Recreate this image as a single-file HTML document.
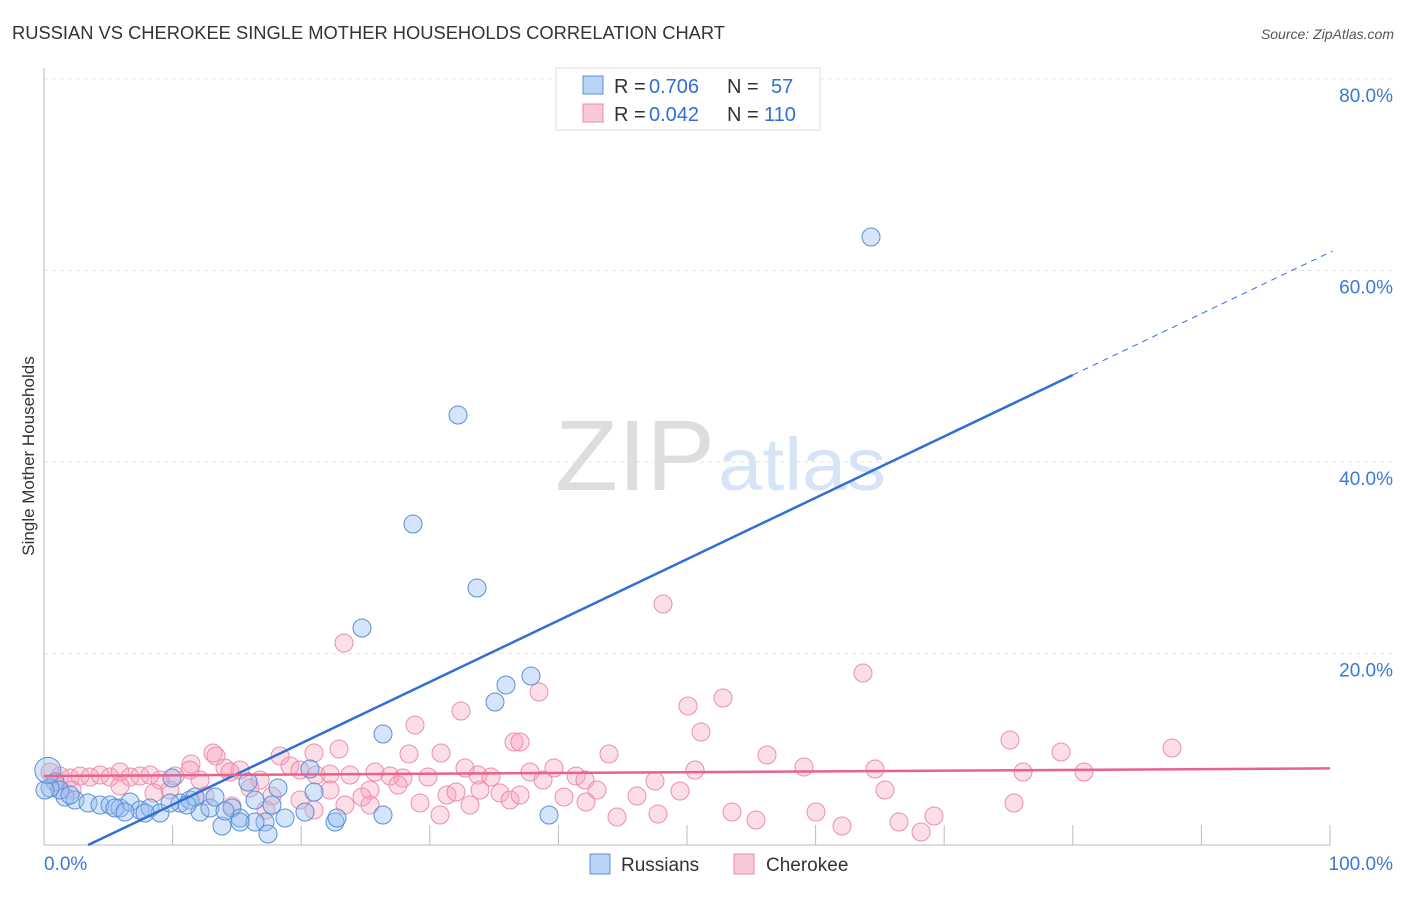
<!DOCTYPE html>
<html><head><meta charset="utf-8"><style>
body{margin:0;background:#fff;font-family:"Liberation Sans",sans-serif}
svg text{font-family:"Liberation Sans",sans-serif}
</style></head><body>
<svg id="chart" width="1406" height="892" xmlns="http://www.w3.org/2000/svg">
<text x="12" y="39" font-size="18" fill="#333" textLength="713" lengthAdjust="spacingAndGlyphs">RUSSIAN VS CHEROKEE SINGLE MOTHER HOUSEHOLDS CORRELATION CHART</text>
<text x="1394" y="39" font-size="14" fill="#555" font-style="italic" text-anchor="end">Source: ZipAtlas.com</text>
<text x="34" y="456" font-size="17" fill="#333" text-anchor="middle" transform="rotate(-90 34 456)">Single Mother Households</text>
<text x="715" y="490" font-size="100" fill="#ddd" font-family="Liberation Serif" text-anchor="end" textLength="160" lengthAdjust="spacingAndGlyphs">ZIP</text>
<text x="718" y="490" font-size="74" fill="#d6e4f5" textLength="168" lengthAdjust="spacingAndGlyphs">atlas</text>
<g id="grid"></g><g id="pts"></g><g id="lines"></g>
<g>
<rect x="556" y="68" width="264" height="62" fill="#fff" stroke="#ddd"/>
<rect x="583" y="76" width="20" height="18" fill="#b8d3f5" stroke="#5b8ed8"/>
<rect x="583" y="104" width="20" height="18" fill="#f9c8d6" stroke="#e88aa8"/>
<text x="614" y="93" font-size="20" fill="#333">R =</text>
<text x="649" y="93" font-size="20" fill="#2f6fd6">0.706</text>
<text x="727" y="93" font-size="20" fill="#333">N =</text>
<text x="771" y="93" font-size="20" fill="#2f6fd6">57</text>
<text x="614" y="121" font-size="20" fill="#333">R =</text>
<text x="649" y="121" font-size="20" fill="#2f6fd6">0.042</text>
<text x="727" y="121" font-size="20" fill="#333">N =</text>
<text x="764" y="121" font-size="20" fill="#2f6fd6">110</text>
</g>
<g>
<rect x="590" y="854" width="20" height="20" fill="#b8d3f5" stroke="#5b8ed8"/>
<text x="621" y="871" font-size="19" fill="#333">Russians</text>
<rect x="734" y="854" width="20" height="20" fill="#f9c8d6" stroke="#e88aa8"/>
<text x="766" y="871" font-size="19" fill="#333">Cherokee</text>
</g>
</svg>
<script>
const yTicks=[20,40,60,80];
const xTickLabels=["0.0%","100.0%"];
const bluePx=[[871,237],[458,415],[413,524],[477,588],[362,628],[531,676],[506,685],[495,702],[383,734],[310,769],[55,782],[65,797],[75,800],[88,803],[100,805],[110,805],[120,808],[130,802],[140,810],[150,808],[160,813],[172,778],[180,803],[190,800],[200,812],[210,808],[222,826],[232,808],[240,818],[248,782],[255,800],[265,822],[272,805],[278,788],[285,818],[268,834],[305,812],[314,792],[335,822],[337,818],[383,815],[549,815],[255,822],[240,822],[145,813],[115,808],[125,812],[195,797],[170,803],[215,797],[225,811],[187,805],[60,790],[70,795],[50,788],[45,790]];
const pinkPx=[[663,604],[344,643],[863,673],[539,692],[723,698],[688,706],[461,711],[701,732],[415,725],[514,742],[520,742],[1172,748],[1010,740],[1061,752],[339,749],[409,754],[441,753],[767,755],[609,754],[213,753],[216,756],[280,756],[314,753],[191,764],[175,776],[225,768],[240,770],[290,766],[300,770],[316,775],[330,774],[350,775],[375,772],[390,776],[403,778],[428,777],[465,768],[478,775],[491,777],[554,768],[576,776],[585,780],[543,780],[804,767],[875,769],[1023,772],[1084,772],[655,781],[60,776],[70,778],[80,776],[90,777],[100,775],[110,777],[120,772],[130,777],[140,776],[150,775],[160,780],[60,790],[72,790],[120,786],[170,790],[200,780],[260,780],[330,790],[370,790],[398,785],[362,797],[420,803],[447,795],[456,792],[480,790],[500,793],[510,800],[520,795],[564,797],[597,790],[637,796],[680,791],[885,790],[1014,803],[586,802],[250,788],[154,793],[232,806],[370,805],[314,810],[266,810],[617,817],[658,814],[732,812],[756,820],[816,812],[842,826],[899,822],[934,816],[921,832],[205,796],[300,800],[440,815],[50,772],[55,782],[190,770],[230,772],[272,796],[345,805],[470,805],[530,772],[695,770]];
const russiansX=bluePx.map(p=>(p[0]-44)/12.86), russiansY=bluePx.map(p=>(845-p[1])/9.575);
const cherokeeX=pinkPx.map(p=>(p[0]-44)/12.86), cherokeeY=pinkPx.map(p=>(845-p[1])/9.575);
const blueTrend=[-2.2,0.641]; const pinkTrend=[7.2,0.008];
const X=v=>44+v*12.86, Y=v=>845-v*9.575;
const NS="http://www.w3.org/2000/svg";
function mk(t,a,p){const e=document.createElementNS(NS,t);for(const k in a)e.setAttribute(k,a[k]);p.appendChild(e);return e;}
const grid=document.getElementById('grid');
yTicks.forEach(v=>{
 const l=mk('line',{x1:44,x2:1394,y1:Y(v),y2:Y(v),stroke:'#e4e4e4','stroke-dasharray':'4 4'},grid);
 
 
 const t=mk('text',{x:1393,y:Y(v)+23,'font-size':19,fill:'#3b78d8','text-anchor':'end'},grid);
 t.textContent=v.toFixed(1)+'%';
 
 
});
mk('line',{x1:44,x2:44,y1:68,y2:845,stroke:'#bbb'},grid);
mk('line',{x1:44,x2:1330,y1:845,y2:845,stroke:'#bbb'},grid);
for(let i=1;i<=10;i++){mk('line',{x1:X(i*10),x2:X(i*10),y1:825,y2:845,stroke:'#bbb'},grid);}
const t0=mk('text',{x:44,y:870,'font-size':19,fill:'#3b78d8'},grid);t0.textContent=xTickLabels[0];


const t1=mk('text',{x:1393,y:870,'font-size':19,fill:'#3b78d8','text-anchor':'end'},grid);t1.textContent=xTickLabels[1];


const pts=document.getElementById('pts');
cherokeeX.forEach((x,i)=>{const c=mk('circle',{cx:X(x),cy:Y(cherokeeY[i]),r:9,fill:'rgba(245,160,185,0.35)',stroke:'#ec8fac','stroke-width':1},pts);
 
 });
russiansX.forEach((x,i)=>{const c=mk('circle',{cx:X(x),cy:Y(russiansY[i]),r:9,fill:'rgba(150,190,240,0.4)',stroke:'#5b8ed8','stroke-width':1},pts);
 
 });
const big=mk('circle',{cx:X(0.3),cy:Y(7.8),r:13,fill:'rgba(150,190,240,0.4)',stroke:'#5b8ed8'},pts);


const lines=document.getElementById('lines');
const bx0=-blueTrend[0]/blueTrend[1];
const bl=mk('line',{x1:X(bx0),y1:Y(0),x2:X(80),y2:Y(blueTrend[0]+blueTrend[1]*80),stroke:'#2f6fd6','stroke-width':2.5},lines);


const bd=mk('line',{x1:X(80),y1:Y(blueTrend[0]+blueTrend[1]*80),x2:X(100.2),y2:Y(blueTrend[0]+blueTrend[1]*100.2),stroke:'#2f6fd6','stroke-width':1,'stroke-dasharray':'6 5'},lines);


const pl=mk('line',{x1:X(0),y1:Y(pinkTrend[0]),x2:X(100),y2:Y(pinkTrend[0]+pinkTrend[1]*100),stroke:'#e8628c','stroke-width':2.5},lines);


</script>
</body></html>
